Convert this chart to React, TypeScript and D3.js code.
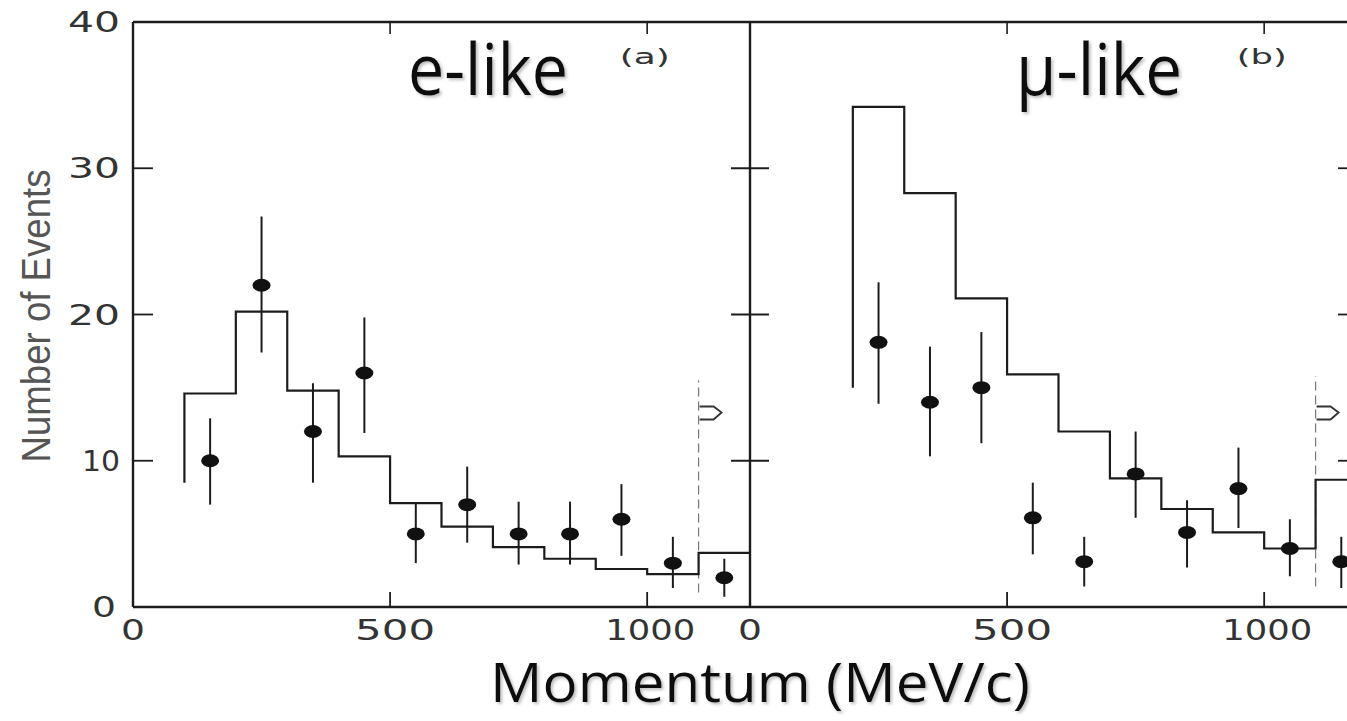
import * as d3 from 'd3';

const width = 1347;
const height = 721;

// axis frame
const plotTop = 22;
const plotBottom = 607;
const yMax = 40;

// tick labels
const yTickValues = [0, 10, 20, 30, 40];
const yTickMarks = [10, 20, 30];
const xTickLabels = [0, 500, 1000];
const xTickMarks = [500, 1000];

// e-like histogram (MC prediction), 100 MeV/c bins
const eBinEdges = [100, 200, 300, 400, 500, 600, 700, 800, 900, 1000, 1100];
const eHistStart = 8.5;
const eHist = [14.6, 20.2, 14.8, 10.3, 7.1, 5.5, 4.1, 3.3, 2.6, 2.25, 3.7];

// e-like data points
const eMomentum = [150, 250, 350, 450, 550, 650, 750, 850, 950, 1050, 1150];
const eCounts = [10, 22, 12, 16, 5, 7, 5, 5, 6, 3, 2];
const eErrLow = [7.0, 17.4, 8.5, 11.9, 3.0, 4.4, 2.9, 2.9, 3.5, 1.3, 0.7];
const eErrHigh = [12.9, 26.7, 15.3, 19.8, 7.1, 9.6, 7.2, 7.2, 8.4, 4.8, 3.3];
const eCut = [1.0, 15.5];

// mu-like histogram
const muBinEdges = [200, 300, 400, 500, 600, 700, 800, 900, 1000, 1100];
const muHistStart = 15;
const muHist = [34.2, 28.3, 21.1, 15.9, 12.0, 8.8, 6.7, 5.1, 4.0, 8.7];

// mu-like data points
const muMomentum = [250, 350, 450, 550, 650, 750, 850, 950, 1050, 1150];
const muCounts = [18.1, 14, 15, 6.1, 3.1, 9.1, 5.1, 8.1, 4.0, 3.1];
const muErrLow = [13.9, 10.3, 11.2, 3.6, 1.4, 6.1, 2.7, 5.4, 2.1, 1.3];
const muErrHigh = [22.2, 17.8, 18.8, 8.5, 4.8, 12.0, 7.3, 10.9, 6.0, 4.8];
const muCut = [1.4, 15.8];

const cutMomentum = 1100;
const arrowLevel = 13.3;

const y = d3.scaleLinear().domain([0, yMax]).range([plotBottom, plotTop]);

const ink = '#1c1c1c';
const labelInk = '#333';

type PanelProps = {
  left: number;
  tag: string;
  title: string;
  titleX: number;
  titleLen: number;
  edges: number[];
  histStart: number;
  hist: number[];
  momentum: number[];
  counts: number[];
  errLow: number[];
  errHigh: number[];
  cut: number[];
};

function Panel(p: PanelProps) {
  const x = d3.scaleLinear().domain([0, 1200]).range([p.left, p.left + 617]);

  const pts: [number, number][] = [[p.edges[0], p.histStart]];
  p.edges.forEach((e, i) => pts.push([e, p.hist[i]]));
  pts.push([1200, p.hist[p.hist.length - 1]]);
  const line = d3
    .line<[number, number]>()
    .x((d) => x(d[0]))
    .y((d) => y(d[1]))
    .curve(d3.curveStepAfter);

  const cx = x(cutMomentum);
  const ay = y(arrowLevel);
  const arrow = `M${cx + 1},${ay - 6} L${cx + 15},${ay - 6} L${cx + 23},${ay} L${cx + 15},${ay + 7} L${cx + 1},${ay + 7}`;

  return (
    <g>
      {/* top / bottom ticks */}
      {xTickMarks.map((t) => (
        <g key={t}>
          <line x1={x(t)} x2={x(t)} y1={plotTop} y2={plotTop + 12} stroke={ink} strokeWidth={1.6} />
          <line x1={x(t)} x2={x(t)} y1={plotBottom} y2={plotBottom - 15} stroke={ink} strokeWidth={1.8} />
        </g>
      ))}
      {xTickLabels.map((t) => (
        <text
          key={t}
          x={x(t) + (t === 500 ? 5 : t === 1000 ? 3 : 0)}
          y={640}
          textAnchor="middle"
          fontFamily="DejaVu Sans"
          fontSize={28}
          fill={labelInk}
          textLength={t === 0 ? 24 : t === 500 ? 80 : 90}
          lengthAdjust="spacingAndGlyphs"
        >
          {t}
        </text>
      ))}

      {/* cut line + arrow */}
      <line
        x1={cx}
        x2={cx}
        y1={y(p.cut[0])}
        y2={y(p.cut[1])}
        stroke="#777"
        strokeWidth={1.2}
        strokeDasharray="9 5"
      />
      <path d={arrow} fill="none" stroke="#333" strokeWidth={1.8} />

      {/* histogram */}
      <path d={line(pts) ?? ''} fill="none" stroke={ink} strokeWidth={2.2} />

      {/* data points */}
      {p.momentum.map((m, i) => (
        <g key={m}>
          <line
            x1={x(m)}
            x2={x(m)}
            y1={y(p.errLow[i])}
            y2={y(p.errHigh[i])}
            stroke={ink}
            strokeWidth={2}
          />
          <ellipse cx={x(m)} cy={y(p.counts[i])} rx={9} ry={6.5} fill="#111" />
        </g>
      ))}

      <text
        x={x(1180) - 95}
        y={64}
        textAnchor="middle"
        fontFamily="DejaVu Sans"
        fontSize={22}
        fill={labelInk}
        textLength={50}
        lengthAdjust="spacingAndGlyphs"
      >
        {p.tag}
      </text>
      <text
        x={p.titleX}
        y={95}
        textAnchor="middle"
        fontFamily="Open Sans"
        fontSize={71}
        fill="#111"
        filter="url(#shadow)"
        textLength={p.titleLen}
        lengthAdjust="spacingAndGlyphs"
      >
        {p.title}
      </text>
    </g>
  );
}

export default function App() {
  const leftX = 133;
  const midX = 750;
  const rightX = 1358;
  return (
    <svg
      width={width}
      height={height}
      style={{ position: 'absolute', left: 0, top: 0, background: '#fff' }}
    >
      <defs>
        <filter id="shadow" x="-10%" y="-10%" width="130%" height="140%">
          <feDropShadow dx={2} dy={2} stdDeviation={1.6} floodColor="#888" floodOpacity={0.55} />
        </filter>
      </defs>

      {/* frame */}
      <g stroke={ink} strokeWidth={2.4} fill="none">
        <line x1={leftX} x2={width + 5} y1={plotTop} y2={plotTop} />
        <line x1={leftX} x2={width + 5} y1={plotBottom} y2={plotBottom} />
        <line x1={leftX} x2={leftX} y1={plotTop} y2={plotBottom} />
        <line x1={midX} x2={midX} y1={plotTop} y2={plotBottom} />
        <line x1={rightX} x2={rightX} y1={plotTop} y2={plotBottom} />
      </g>

      {/* y ticks */}
      {yTickMarks.map((t) => (
        <g key={t} stroke={ink} strokeWidth={1.8}>
          <line x1={leftX} x2={leftX + 20} y1={y(t)} y2={y(t)} />
          <line x1={midX - 19} x2={midX + 19} y1={y(t)} y2={y(t)} />
          <line x1={rightX - 20} x2={rightX} y1={y(t)} y2={y(t)} />
        </g>
      ))}
      {yTickValues.map((t) => (
        <text
          key={t}
          x={t === 0 ? 116 : 120}
          y={y(t) + 10}
          textAnchor="end"
          fontFamily="DejaVu Sans"
          fontSize={28}
          fill={labelInk}
          textLength={t === 0 ? 24 : t === 10 ? 38 : 52}
          lengthAdjust="spacingAndGlyphs"
        >
          {t}
        </text>
      ))}

      <text
        transform="translate(50,316) rotate(-90)"
        textAnchor="middle"
        fontFamily="Liberation Sans"
        fontSize={40}
        fill="#555"
        textLength={293}
        lengthAdjust="spacingAndGlyphs"
      >
        Number of Events
      </text>

      <Panel
        left={leftX}
        tag="(a)"
        title="e-like"
        titleX={488}
        titleLen={160}
        edges={eBinEdges}
        histStart={eHistStart}
        hist={eHist}
        momentum={eMomentum}
        counts={eCounts}
        errLow={eErrLow}
        errHigh={eErrHigh}
        cut={eCut}
      />
      <Panel
        left={midX}
        tag="(b)"
        title="μ-like"
        titleX={1099}
        titleLen={166}
        edges={muBinEdges}
        histStart={muHistStart}
        hist={muHist}
        momentum={muMomentum}
        counts={muCounts}
        errLow={muErrLow}
        errHigh={muErrHigh}
        cut={muCut}
      />

      <text
        x={760}
        y={702}
        textAnchor="middle"
        fontFamily="Open Sans"
        fontSize={54}
        fill="#111"
        filter="url(#shadow)"
        textLength={540}
        lengthAdjust="spacingAndGlyphs"
      >
        Momentum (MeV/c)
      </text>
    </svg>
  );
}
